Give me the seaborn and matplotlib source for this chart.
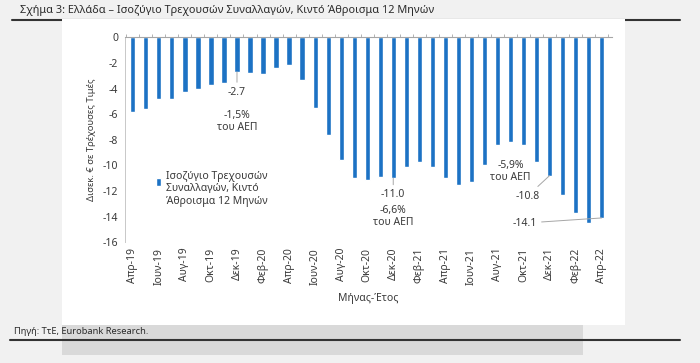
import numpy as np
import matplotlib
matplotlib.use("Agg")
import matplotlib.pyplot as plt
import seaborn as sns
import pandas as pd
from matplotlib.patches import Rectangle, Patch
from matplotlib.lines import Line2D
from matplotlib.legend_handler import HandlerPatch

# μήνες (Απρ-19 έως Απρ-22)
months = ["Απρ-19", "Μαϊ-19", "Ιουν-19", "Ιουλ-19", "Αυγ-19", "Σεπ-19", "Οκτ-19", "Νοε-19", "Δεκ-19",
          "Ιαν-20", "Φεβ-20", "Μαρ-20", "Απρ-20", "Μαϊ-20", "Ιουν-20", "Ιουλ-20", "Αυγ-20", "Σεπ-20",
          "Οκτ-20", "Νοε-20", "Δεκ-20", "Ιαν-21", "Φεβ-21", "Μαρ-21", "Απρ-21", "Μαϊ-21", "Ιουν-21",
          "Ιουλ-21", "Αυγ-21", "Σεπ-21", "Οκτ-21", "Νοε-21", "Δεκ-21", "Ιαν-22", "Φεβ-22", "Μαρ-22",
          "Απρ-22"]

# ισοζύγιο, δισεκ. ευρώ
balance = [-5.8, -5.6, -4.8, -4.8, -4.3, -4.0, -3.7, -3.6, -2.7,
           -2.8, -2.9, -2.4, -2.2, -3.3, -5.5, -7.6, -9.6, -11.0,
           -11.1, -10.9, -11.0, -10.1, -9.7, -10.1, -11.0, -11.5, -11.3,
           -10.0, -8.4, -8.2, -8.4, -9.7, -10.8, -12.3, -13.7, -14.5,
           -14.1]

yticks = [0, -2, -4, -6, -8, -10, -12, -14, -16]

title = "Σχήμα 3: Ελλάδα – Ισοζύγιο Τρεχουσών Συναλλαγών, Κιντό Άθροισμα 12 Μηνών"
legend_txt = "Ισοζύγιο Τρεχουσών\nΣυναλλαγών, Κιντό\nΆθροισμα 12 Μηνών"
source = "Πηγή: ΤτΕ, Eurobank Research."

bar_color = "#1c72c4"
grey = "#a6a6a6"
txt = "#3a3a3a"

sns.set_style("white")
plt.rcParams["font.family"] = ["Noto Sans", "DejaVu Sans"]

df = pd.DataFrame({"month": months, "value": balance})


def top_square(legend, orig_handle, xdescent, ydescent, width, height, fontsize):
    # μικρό τετράγωνο στο ύψος της πρώτης γραμμής
    h = 0.3 * height
    return Rectangle((-xdescent, -ydescent + height - h - 0.04 * height), width, h)


fig = plt.figure(figsize=(7, 3.63), dpi=100, facecolor="#f1f1f1")

# πλαίσια φόντου
fig.add_artist(Line2D([12 / 700, 680 / 700], [1 - 20 / 363] * 2, color="#333333", lw=1.5, zorder=-3))
fig.add_artist(Rectangle((62 / 700, 1 - 325 / 363), 563 / 700, 306 / 363, facecolor="white",
                         edgecolor="none", zorder=-2))
fig.add_artist(Rectangle((62 / 700, 1 - 355 / 363), 521 / 700, 30 / 363, facecolor="#d9d9d9",
                         edgecolor="none", zorder=-2))
fig.add_artist(Line2D([10 / 700, 680 / 700], [1 - 340 / 363] * 2, color="#333333", lw=1.5, zorder=-1))

ax = fig.add_axes([125 / 700, 1 - 242.3 / 363, 487 / 700, 205 / 363])
ax.set_facecolor("none")

sns.barplot(data=df, x="month", y="value", color=bar_color, width=0.4, saturation=1, ax=ax)

ax.set_ylim(-16, 0)
ax.set_xlim(-0.6, 36.8)
ax.set_yticks(yticks)
ax.set_yticklabels([str(v) for v in yticks], fontsize=7.5, color=txt)
ax.set_xticks(range(0, len(months), 2))
ax.set_xticklabels(months[::2], rotation=90, fontsize=7.5, color=txt)
ax.set_xticks(np.arange(-0.5, len(months), 1), minor=True)
ax.tick_params(axis="x", which="major", length=0, pad=4)
ax.tick_params(axis="x", which="minor", top=True, bottom=False, length=2, color=grey, width=0.6)
ax.tick_params(axis="y", length=3, color=grey, width=0.6, pad=2)

for s in ["right", "bottom"]:
    ax.spines[s].set_visible(False)
ax.spines["left"].set_color("#c8c8c8")
ax.spines["top"].set_color(grey)
ax.spines["left"].set_linewidth(0.7)
ax.spines["top"].set_linewidth(0.8)

ax.set_xlabel("Μήνας-Έτος", fontsize=7.5, color=txt, labelpad=6)
ax.set_ylabel("Δισεκ. € σε Τρέχουσες Τιμές", fontsize=6.8, color=txt, labelpad=5)

# σχόλια
line = dict(arrowstyle="-", color=grey, lw=0.7, shrinkA=1, shrinkB=0)
ax.annotate(f"{balance[8]:.1f}", xy=(8, balance[8]), xytext=(8, -4.3), ha="center", va="center",
            fontsize=7.5, color=txt, arrowprops=line)
ax.text(8, -6.6, "-1,5%\nτου ΑΕΠ", ha="center", va="center", fontsize=7.5, color=txt,
        linespacing=1.1)
ax.annotate(f"{balance[20]:.1f}", xy=(20, balance[20]), xytext=(20, -12.3), ha="center", va="center",
            fontsize=7.5, color=txt, arrowprops=line)
ax.text(20, -14.0, "-6,6%\nτου ΑΕΠ", ha="center", va="center", fontsize=7.5, color=txt,
        linespacing=1.1)
ax.text(29.0, -10.45, "-5,9%\nτου ΑΕΠ", ha="center", va="center", fontsize=7.5, color=txt,
        linespacing=1.1)
ax.annotate(f"{balance[32]:.1f}", xy=(32, balance[32]), xytext=(30.3, -12.4), ha="center", va="center",
            fontsize=7.5, color=txt, arrowprops=line)
ax.annotate(f"{balance[36]:.1f}", xy=(36, balance[36]), xytext=(30.1, -14.5), ha="center", va="center",
            fontsize=7.5, color=txt, arrowprops=line)

square = Patch(facecolor=bar_color)
ax.legend(handles=[square], labels=[legend_txt], loc="upper left",
          bbox_to_anchor=(0.055, 0.37), frameon=False, fontsize=7.5, handlelength=0.45,
          handleheight=3.3, handletextpad=0.5, borderaxespad=0, labelcolor=txt,
          handler_map={Patch: HandlerPatch(patch_func=top_square)})

fig.text(20 / 700, 1 - 10 / 363, title, fontsize=7.9, color="#2b2b2b", va="center", ha="left")
fig.text(14 / 700, 1 - 331 / 363, source, fontsize=6.7, color="#2b2b2b", va="center", ha="left")

fig.savefig("out.png", dpi=100, facecolor=fig.get_facecolor())
